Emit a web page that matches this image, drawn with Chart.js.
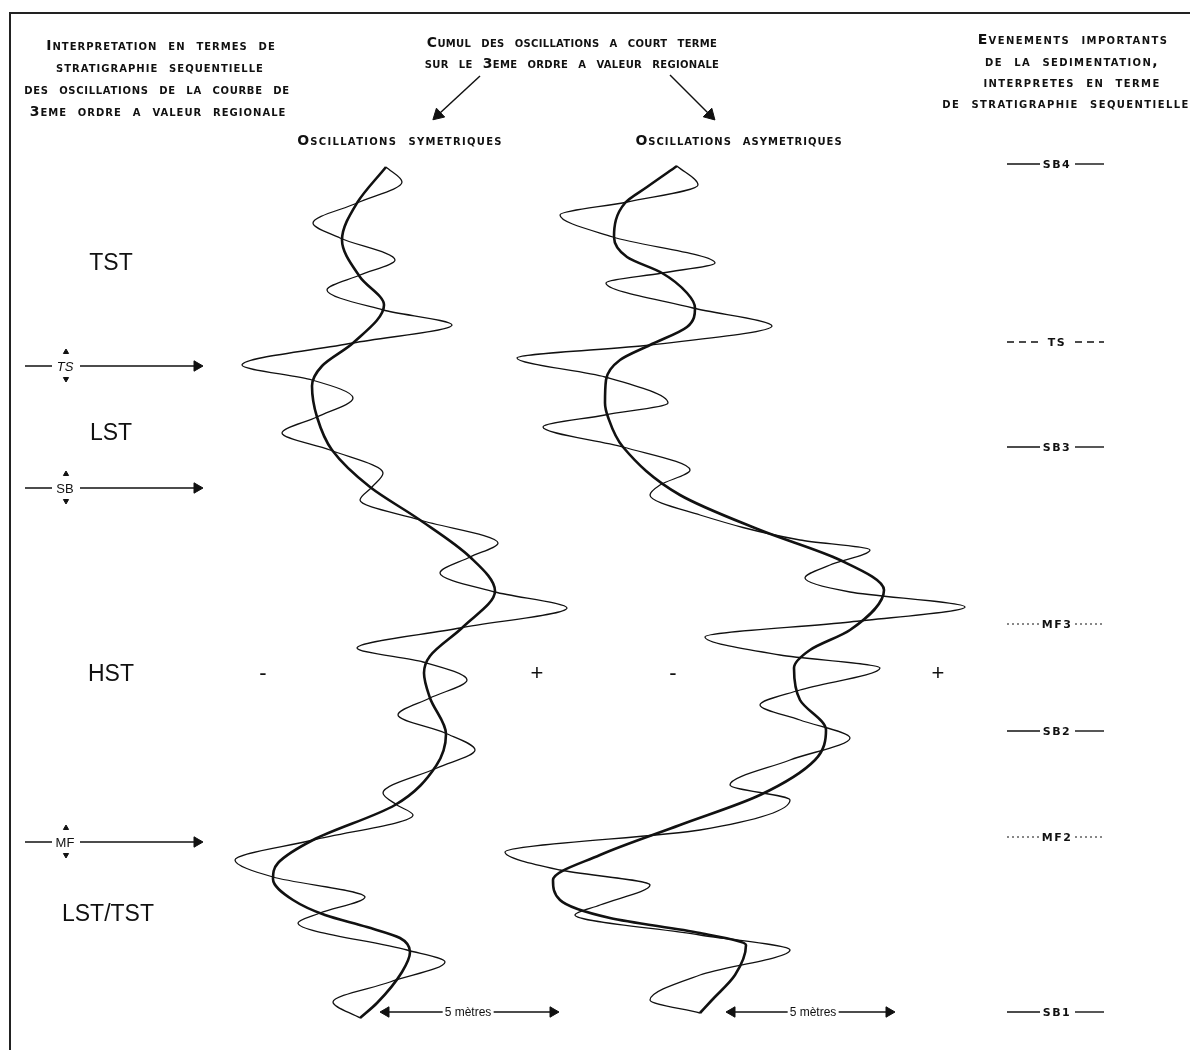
<!DOCTYPE html>
<html lang="fr">
<head>
<meta charset="UTF-8">
<title>Cumul des oscillations a court terme</title>
<script src="https://cdn.jsdelivr.net/npm/chart.js@4.4.1/dist/chart.umd.min.js"></script>
<style>
  html, body { margin: 0; padding: 0; background: #fff; }
  #wrap { position: relative; width: 1190px; height: 1050px; overflow: hidden; }
  #chart { position: absolute; left: 0; top: 0; }
  .t { position: absolute; white-space: nowrap; transform: translate(-50%, -50%); color: #111; line-height: 1; }
  .hd { font-family: "DejaVu Sans"; font-weight: bold; font-variant: small-caps; font-size: 14px; letter-spacing: 0.3px; word-spacing: 5px; }
  .hl { letter-spacing: 1px; }
  .hr { letter-spacing: 1.4px; }
  .big { font-family: "Liberation Sans"; font-size: 23px; }
  .ev { font-family: "DejaVu Sans"; font-weight: bold; font-size: 11px; letter-spacing: 1.5px; }
  .sf { font-family: "Liberation Sans"; font-size: 13px; background: #fff; padding: 0 1px; }
  .pm { font-family: "Liberation Sans"; font-size: 22px; }
  .sc { font-family: "Liberation Sans"; font-size: 12px; background: #fff; padding: 0 2px; }
</style>
</head>
<body>
<div id="wrap">
  <canvas id="chart" width="1190" height="1050"></canvas>
</div>
<script>
// curves as [x, depth] pairs (depth grows downwards)
// symmetric oscillations panel
const symRegional = [[386,167],[357,203],[342,240],[360,277],[384,305],[353,343],[322,366],[312,386],[317,417],[332,450],[370,487],[420,520],[470,557],[495,591],[463,627],[430,656],[424,673],[430,698],[446,734],[436,766],[395,805],[313,840],[278,863],[273,879],[293,900],[325,915],[367,927],[400,938],[410,952],[402,972],[377,1003],[360,1018]];
const symShortTerm = [[386,167],[402,182],[357,203],[313,223],[340,238],[395,260],[360,275],[327,290],[383,310],[452,325],[353,343],[242,365],[312,380],[353,398],[317,417],[282,433],[330,450],[383,473],[372,487],[360,500],[420,520],[498,543],[470,557],[440,573],[495,592],[567,608],[460,628],[357,648],[423,662],[467,680],[430,698],[398,715],[445,733],[475,750],[437,768],[383,793],[397,805],[413,815],[313,840],[235,860],[273,877],[365,897],[320,913],[298,923],[407,950],[445,962],[390,982],[333,1002],[360,1018]];

// asymmetric oscillations panel
const asymRegional = [[677,166],[647,187],[625,203],[614,237],[627,257],[662,273],[687,293],[695,308],[687,327],[650,345],[620,360],[606,380],[605,403],[608,417],[623,447],[680,495],[760,530],[840,560],[884,590],[850,630],[810,650],[794,668],[800,700],[826,730],[815,760],[760,795],[680,825],[600,855],[553,880],[560,900],[610,918],[700,933],[746,945],[735,975],[712,1000],[700,1013]];
const asymShortTerm = [[677,166],[698,185],[627,202],[560,215],[613,237],[715,263],[662,273],[606,283],[693,308],[772,326],[650,345],[517,358],[605,377],[668,403],[605,415],[543,427],[623,447],[690,470],[660,485],[650,495],[700,515],[800,540],[870,550],[830,565],[805,578],[850,592],[965,607],[850,622],[705,637],[780,655],[880,668],[800,690],[760,705],[800,720],[850,738],[790,760],[730,785],[790,800],[700,830],[505,852],[560,870],[650,885],[600,905],[575,915],[700,935],[790,950],[700,975],[650,1000],[700,1013]];

// sequence stratigraphy events, right column
const eventLabels = ['SB4', 'TS', 'SB3', 'MF3', 'SB2', 'MF2', 'SB1'];
const eventDepths = [164, 342, 447, 624, 731, 837, 1012];
const eventKinds = ['solid', 'dash', 'solid', 'dot', 'solid', 'dot', 'solid'];

// systems tracts and surfaces, left column
const tractLabels = ['TST', 'LST', 'HST', 'LST/TST'];
const tractDepths = [262, 432, 673, 913];
const surfaceLabels = ['TS', 'SB', 'MF'];
const surfaceDepths = [366, 488, 842];

const ink = '#111';
const pts = arr => arr.map(p => ({x: p[0], y: p[1]}));

function seg(a, b, width, dash) {
    return {
        data: [{x: a[0], y: a[1]}, {x: b[0], y: b[1]}],
        borderColor: ink, borderWidth: width || 1.5,
        borderDash: dash || [], pointRadius: 0, tension: 0
    };
}

function curve(arr, width) {
    // x as a smooth function of depth
    return { data: pts(arr), borderColor: ink, borderWidth: width, pointRadius: 0, cubicInterpolationMode: 'monotone' };
}

const datasets = [];
datasets.push(curve(symRegional, 2.6));
datasets.push(curve(symShortTerm, 1.3));
datasets.push(curve(asymRegional, 2.6));
datasets.push(curve(asymShortTerm, 1.3));

// frame
datasets.push({ data: pts([[10,1060],[10,13],[1195,13]]), borderColor: '#222', borderWidth: 2, pointRadius: 0, tension: 0 });

// header arrows
datasets.push(seg([480,76], [440,113], 1.5));
datasets.push(seg([670,75], [708,113], 1.5));

// event markers
eventDepths.forEach((d, i) => {
    const dash = eventKinds[i] === 'dash' ? [7,5] : eventKinds[i] === 'dot' ? [2,3] : [];
    const w = eventKinds[i] === 'dot' ? 1 : 1.4;
    datasets.push(seg([1007,d], [1040,d], w, dash));
    datasets.push(seg([1075,d], [1104,d], w, dash));
});

// surface arrows in left column
surfaceDepths.forEach(d => {
    datasets.push(seg([25,d], [52,d], 1.5));
    datasets.push(seg([80,d], [196,d], 1.5));
});

// 5 metre scale bars
datasets.push(seg([384,1012], [555,1012], 1.5));
datasets.push(seg([730,1012], [891,1012], 1.5));

// arrow heads
const heads = [];
surfaceDepths.forEach(d => {
    heads.push({x: 197, y: d, r: 6, rot: 90});
    heads.push({x: 66, y: d - 14, r: 3, rot: 0});
    heads.push({x: 66, y: d + 13, r: 3, rot: 180});
});
heads.push({x: 438, y: 115, r: 7, rot: 227});
heads.push({x: 710, y: 115, r: 7, rot: 135});
heads.push({x: 386, y: 1012, r: 6, rot: 270});
heads.push({x: 553, y: 1012, r: 6, rot: 90});
heads.push({x: 732, y: 1012, r: 6, rot: 270});
heads.push({x: 889, y: 1012, r: 6, rot: 90});
datasets.push({
    data: heads.map(h => ({x: h.x, y: h.y})),
    showLine: false, pointStyle: 'triangle',
    pointRadius: heads.map(h => h.r), pointRotation: heads.map(h => h.rot),
    backgroundColor: ink, borderColor: ink, borderWidth: 1
});

const chart = new Chart(document.getElementById('chart'), {
    type: 'line',
    data: { datasets: datasets },
    options: {
        indexAxis: 'y',
        responsive: false, animation: false, devicePixelRatio: 1,
        layout: { padding: 0, autoPadding: false },
        plugins: { legend: { display: false }, tooltip: { enabled: false } },
        scales: {
            x: { type: 'linear', min: 0, max: 1190, display: false },
            y: { type: 'linear', min: 0, max: 1050, reverse: true, display: false }
        }
    }
});

// texts, placed through the chart scales
const wrap = document.getElementById('wrap');
function label(text, x, y, cls, extra) {
    const el = document.createElement('div');
    el.className = 't ' + cls;
    el.textContent = text;
    el.style.left = chart.scales.x.getPixelForValue(x) + 'px';
    el.style.top = chart.scales.y.getPixelForValue(y) + 'px';
    if (extra) Object.assign(el.style, extra);
    wrap.appendChild(el);
}

label('Interpretation en termes de', 161, 45, 'hd hl');
label('stratigraphie sequentielle', 160, 67, 'hd hl');
label('des oscillations de la courbe de', 157, 89, 'hd hl', {letterSpacing: '0.7px'});
label('3eme ordre a valeur regionale', 158, 111, 'hd hl');

label('Cumul des oscillations a court terme', 572, 42, 'hd');
label('sur le 3eme ordre a valeur regionale', 572, 63, 'hd');
label('Oscillations symetriques', 400, 140, 'hd', {letterSpacing: '1.3px'});
label('Oscillations asymetriques', 739, 140, 'hd', {letterSpacing: '1px'});

label('Evenements importants', 1073, 39, 'hd hr');
label('de la sedimentation,', 1072, 61, 'hd hr');
label('interpretes en terme', 1072, 82, 'hd hr');
label('de stratigraphie sequentielle', 1066, 103, 'hd hr');

tractLabels.forEach((t, i) => label(t, t.length > 3 ? 108 : 111, tractDepths[i], 'big'));
surfaceLabels.forEach((t, i) => label(t, 65, surfaceDepths[i], 'sf', t === 'TS' ? {fontStyle: 'italic'} : null));
eventLabels.forEach((t, i) => label(t, 1057, eventDepths[i], 'ev'));

label('-', 263, 673, 'pm');
label('+', 537, 673, 'pm');
label('-', 673, 673, 'pm');
label('+', 938, 673, 'pm');

label('5 mètres', 468, 1012, 'sc');
label('5 mètres', 813, 1012, 'sc');
</script>
</body>
</html>
